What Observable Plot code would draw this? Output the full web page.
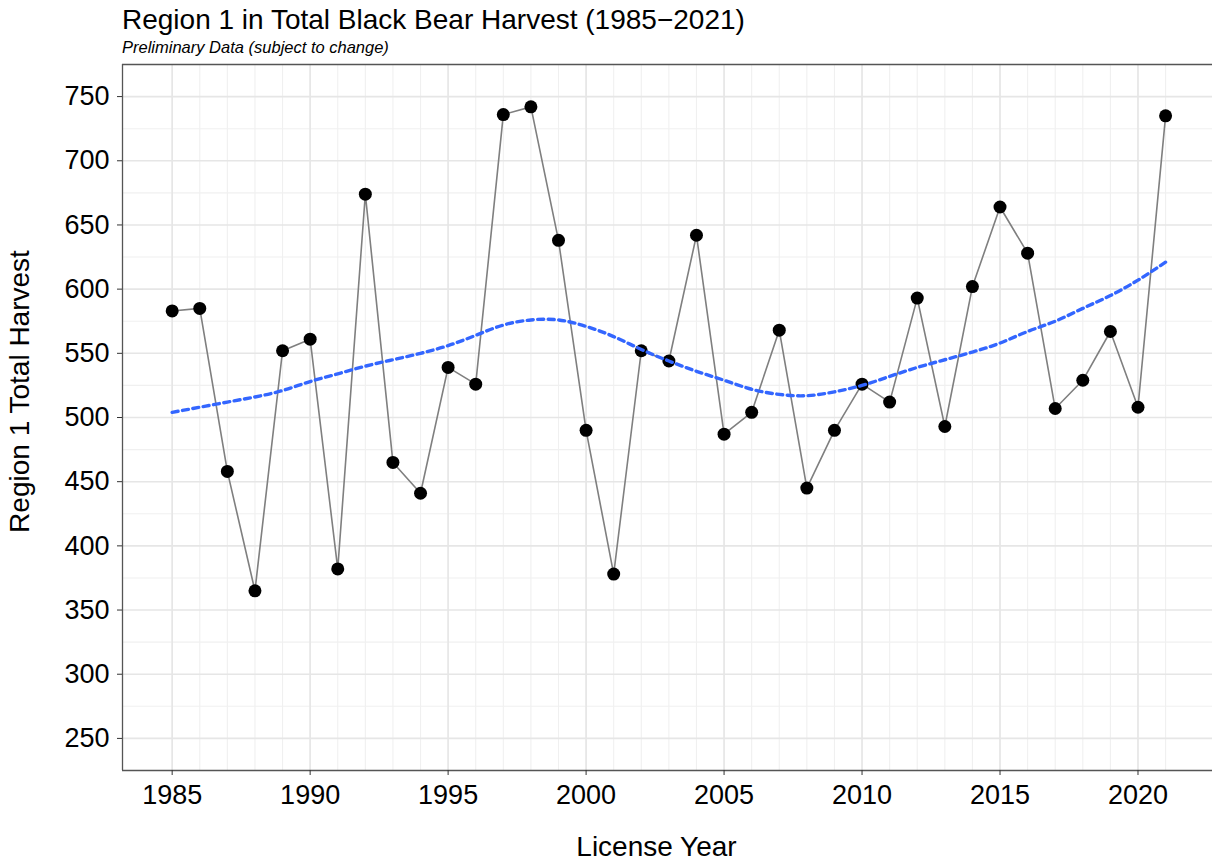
<!DOCTYPE html>
<html>
<head>
<meta charset="utf-8">
<script src="https://cdn.jsdelivr.net/npm/d3@7"></script>
<script src="https://cdn.jsdelivr.net/npm/@observablehq/plot@0.6"></script>
<style>
  html, body { margin: 0; padding: 0; background: #fff; }
  #header { position: relative; width: 1214px; height: 58px; font-family: "Liberation Sans", Arial, sans-serif; color: #000; }
  #title { position: absolute; left: 122px; top: 6px; font-size: 28px; line-height: 28px; white-space: nowrap; }
  #subtitle { position: absolute; left: 122px; top: 39px; font-size: 16.5px; line-height: 16.5px; font-style: italic; white-space: nowrap; }
  #chart svg { display: block; }
</style>
</head>
<body>
<div id="header">
  <div id="title">Region 1 in Total Black Bear Harvest (1985−2021)</div>
  <div id="subtitle">Preliminary Data (subject to change)</div>
</div>
<div id="chart"></div>
<script>
// ---- data ----
const years = [1985,1986,1987,1988,1989,1990,1991,1992,1993,1994,1995,1996,1997,1998,1999,2000,2001,2002,2003,2004,2005,2006,2007,2008,2009,2010,2011,2012,2013,2014,2015,2016,2017,2018,2019,2020,2021];
const harvest = [583,585,458,365,552,561,382,674,465,441,539,526,736,742,638,490,378,552,544,642,487,504,568,445,490,526,512,593,493,602,664,628,507,529,567,508,735];
// smoothed trend (loess)
const trend = [504,508,512,516,521,528,534,540,545,550,556,564,572,576,576,571,563,553,544,536,529,522,518,517,520,525,532,539,545,551,558,567,575,585,595,607,621];

// ---- tick labels / grid values ----
const xMajorTicks = [1985,1990,1995,2000,2005,2010,2015,2020];
const xMinorTicks = years;
const yMajorTicks = [250,300,350,400,450,500,550,600,650,700,750];
const yMinorTicks = [275,325,375,425,475,525,575,625,675,725];

const rows = years.map((y, i) => ({year: y, harvest: harvest[i], trend: trend[i]}));

const xDomain = [1983.2, 2022.7];
const yDomain = [225, 775];

const chart = Plot.plot({
  width: 1214,
  height: 805,
  marginTop: 6,
  marginBottom: 93,
  marginLeft: 122,
  marginRight: 2,
  style: {fontFamily: "'Liberation Sans', Arial, sans-serif", fontSize: "27px", color: "#000", background: "#fff"},
  x: {domain: xDomain, label: null},
  y: {domain: yDomain, label: null},
  marks: [
    // minor grid
    Plot.ruleX(xMinorTicks, {stroke: "#f0f0f0", strokeWidth: 1.1}),
    Plot.ruleY(yMinorTicks, {stroke: "#f0f0f0", strokeWidth: 1.1}),
    // major grid
    Plot.ruleX(xMajorTicks, {stroke: "#e6e6e6", strokeWidth: 1.6}),
    Plot.ruleY(yMajorTicks, {stroke: "#e6e6e6", strokeWidth: 1.6}),
    // panel border (top, left, bottom)
    Plot.ruleY([yDomain[1]], {stroke: "#555", strokeWidth: 1.3}),
    Plot.ruleY([yDomain[0]], {stroke: "#555", strokeWidth: 1.3}),
    Plot.ruleX([xDomain[0]], {stroke: "#555", strokeWidth: 1.3}),
    // axes
    Plot.axisX({ticks: xMajorTicks, tickFormat: d => String(d), tickSize: 5, tickPadding: 9, stroke: "#333", label: null}),
    Plot.axisY({ticks: yMajorTicks, tickSize: 5, tickPadding: 8, stroke: "#333", label: null}),
    // data
    Plot.line(rows, {x: "year", y: "harvest", stroke: "#7f7f7f", strokeWidth: 1.6}),
    Plot.dot(rows, {x: "year", y: "harvest", r: 6.5, fill: "#000", stroke: "none"}),
    Plot.line(rows, {x: "year", y: "trend", stroke: "#3366FF", strokeWidth: 3.4, strokeDasharray: "6,4.5", curve: "natural"}),
    // axis titles
    Plot.text(["License Year"], {frameAnchor: "bottom", textAnchor: "middle", dx: -11, dy: 77, fontSize: 28, fill: "#000", lineAnchor: "middle"}),
    Plot.text(["Region 1 Total Harvest"], {frameAnchor: "left", textAnchor: "middle", dx: -102, dy: -26, rotate: -90, fontSize: 28, fill: "#000", lineAnchor: "middle"})
  ]
});
document.getElementById("chart").appendChild(chart);
</script>
</body>
</html>
